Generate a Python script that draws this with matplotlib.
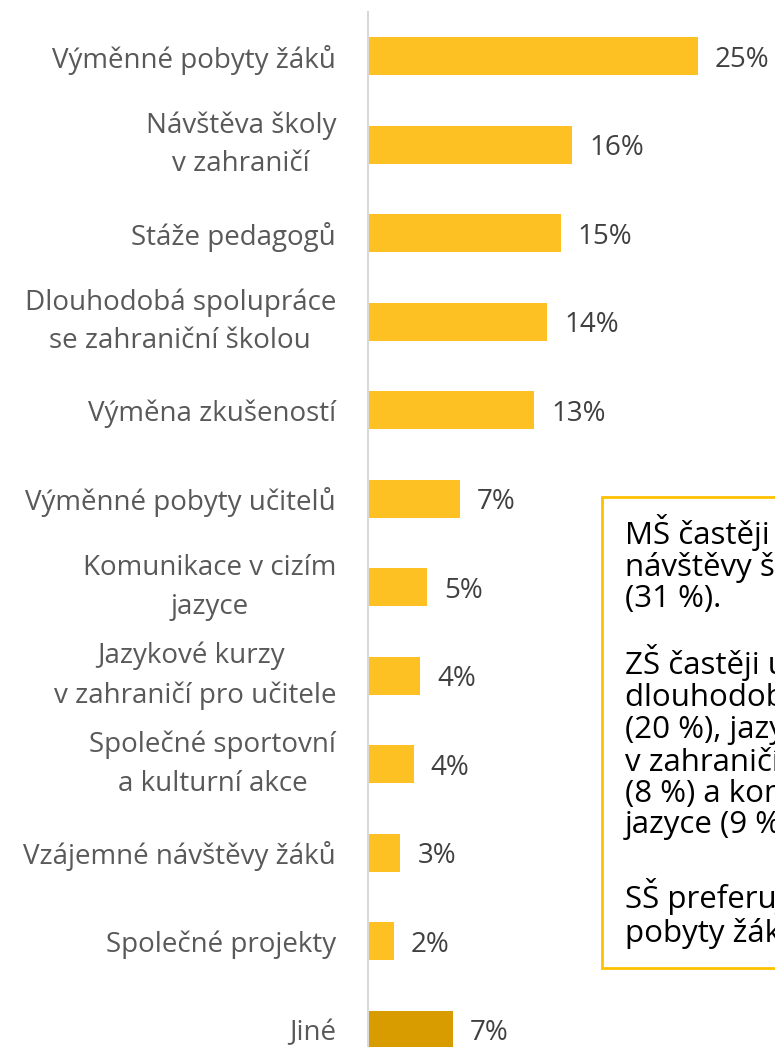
import matplotlib
matplotlib.use("Agg")
import matplotlib.pyplot as plt
from matplotlib.patches import Rectangle

plt.rcParams['font.family'] = ['Open Sans', 'DejaVu Sans']

categories = [
    "Výměnné pobyty žáků",
    "Návštěva školy\nv zahraničí",
    "Stáže pedagogů",
    "Dlouhodobá spolupráce\nse zahraniční školou",
    "Výměna zkušeností",
    "Výměnné pobyty učitelů",
    "Komunikace v cizím\njazyce",
    "Jazykové kurzy \nv zahraničí pro učitele",
    "Společné sportovní\na kulturní akce",
    "Vzájemné návštěvy žáků",
    "Společné projekty",
    "Jiné",
]
values = [25.0, 15.5, 14.6, 13.6, 12.6, 6.95, 4.5, 3.97, 3.46, 2.45, 1.95, 6.45]
value_labels = ["25%", "16%", "15%", "14%", "13%", "7%", "5%", "4%", "4%", "3%", "2%", "7%"]
bar_colors = ["#FEC124"] * 11 + ["#D89B00"]

note_paragraphs = [
    "MŠ častěji uvádějí\nnávštěvy škol\n(31 %).",
    "ZŠ častěji uvádějí\ndlouhodobou spolupráci\n(20 %), jazykové kurzy\nv zahraničí pro učitele\n(8 %) a komunikaci v cizím\njazyce (9 %).",
    "SŠ preferují výměnné\npobyty žáků.",
]

W, H = 775, 1047
fig = plt.figure(figsize=(W / 100, H / 100), dpi=100)

def fx(px):
    return px / W

def fy(py):
    return 1 - py / H

ax_left, ax_top, ax_bottom = 368, 12, 1074
ax = fig.add_axes([fx(ax_left), fy(ax_bottom), fx(395.7), (ax_bottom - ax_top) / H])
ypos = list(range(len(categories)))
ax.barh(ypos, values, height=0.43, color=bar_colors, edgecolor='none')
ax.set_xlim(0, 30)
ax.set_ylim(len(categories) - 0.5, -0.5)
for s in ['top', 'right', 'bottom']:
    ax.spines[s].set_visible(False)
ax.spines['left'].set_color('#D9D9D9')
ax.spines['left'].set_linewidth(1.5)
ax.set_xticks([])
ax.set_yticks(ypos)
ax.set_yticklabels(categories, fontsize=20, color='#595959', linespacing=1.5,
                   multialignment='center')
for lbl in ax.get_yticklabels():
    if "\n" in lbl.get_text():
        lbl.set_verticalalignment('center')
    else:
        lbl.set_verticalalignment('center_baseline')
ax.tick_params(axis='y', length=0, pad=23)
for y, v, lab in zip(ypos, values, value_labels):
    ax.text(v + 1.3, y, lab, va='center_baseline', ha='left', fontsize=20, color='#404040')

# note box
box = Rectangle((fx(602), fy(968)), fx(300), (968 - 497) / H, transform=fig.transFigure,
                facecolor='white', edgecolor='#FFC000', linewidth=2, clip_on=False)
fig.add_artist(box)
tops = [514, 644, 878]
for t, para in zip(tops, note_paragraphs):
    fig.text(fx(625), fy(t), para, ha='left', va='top', fontsize=22.5, color='black', linespacing=1.05)

fig.savefig("out.png", dpi=100)
